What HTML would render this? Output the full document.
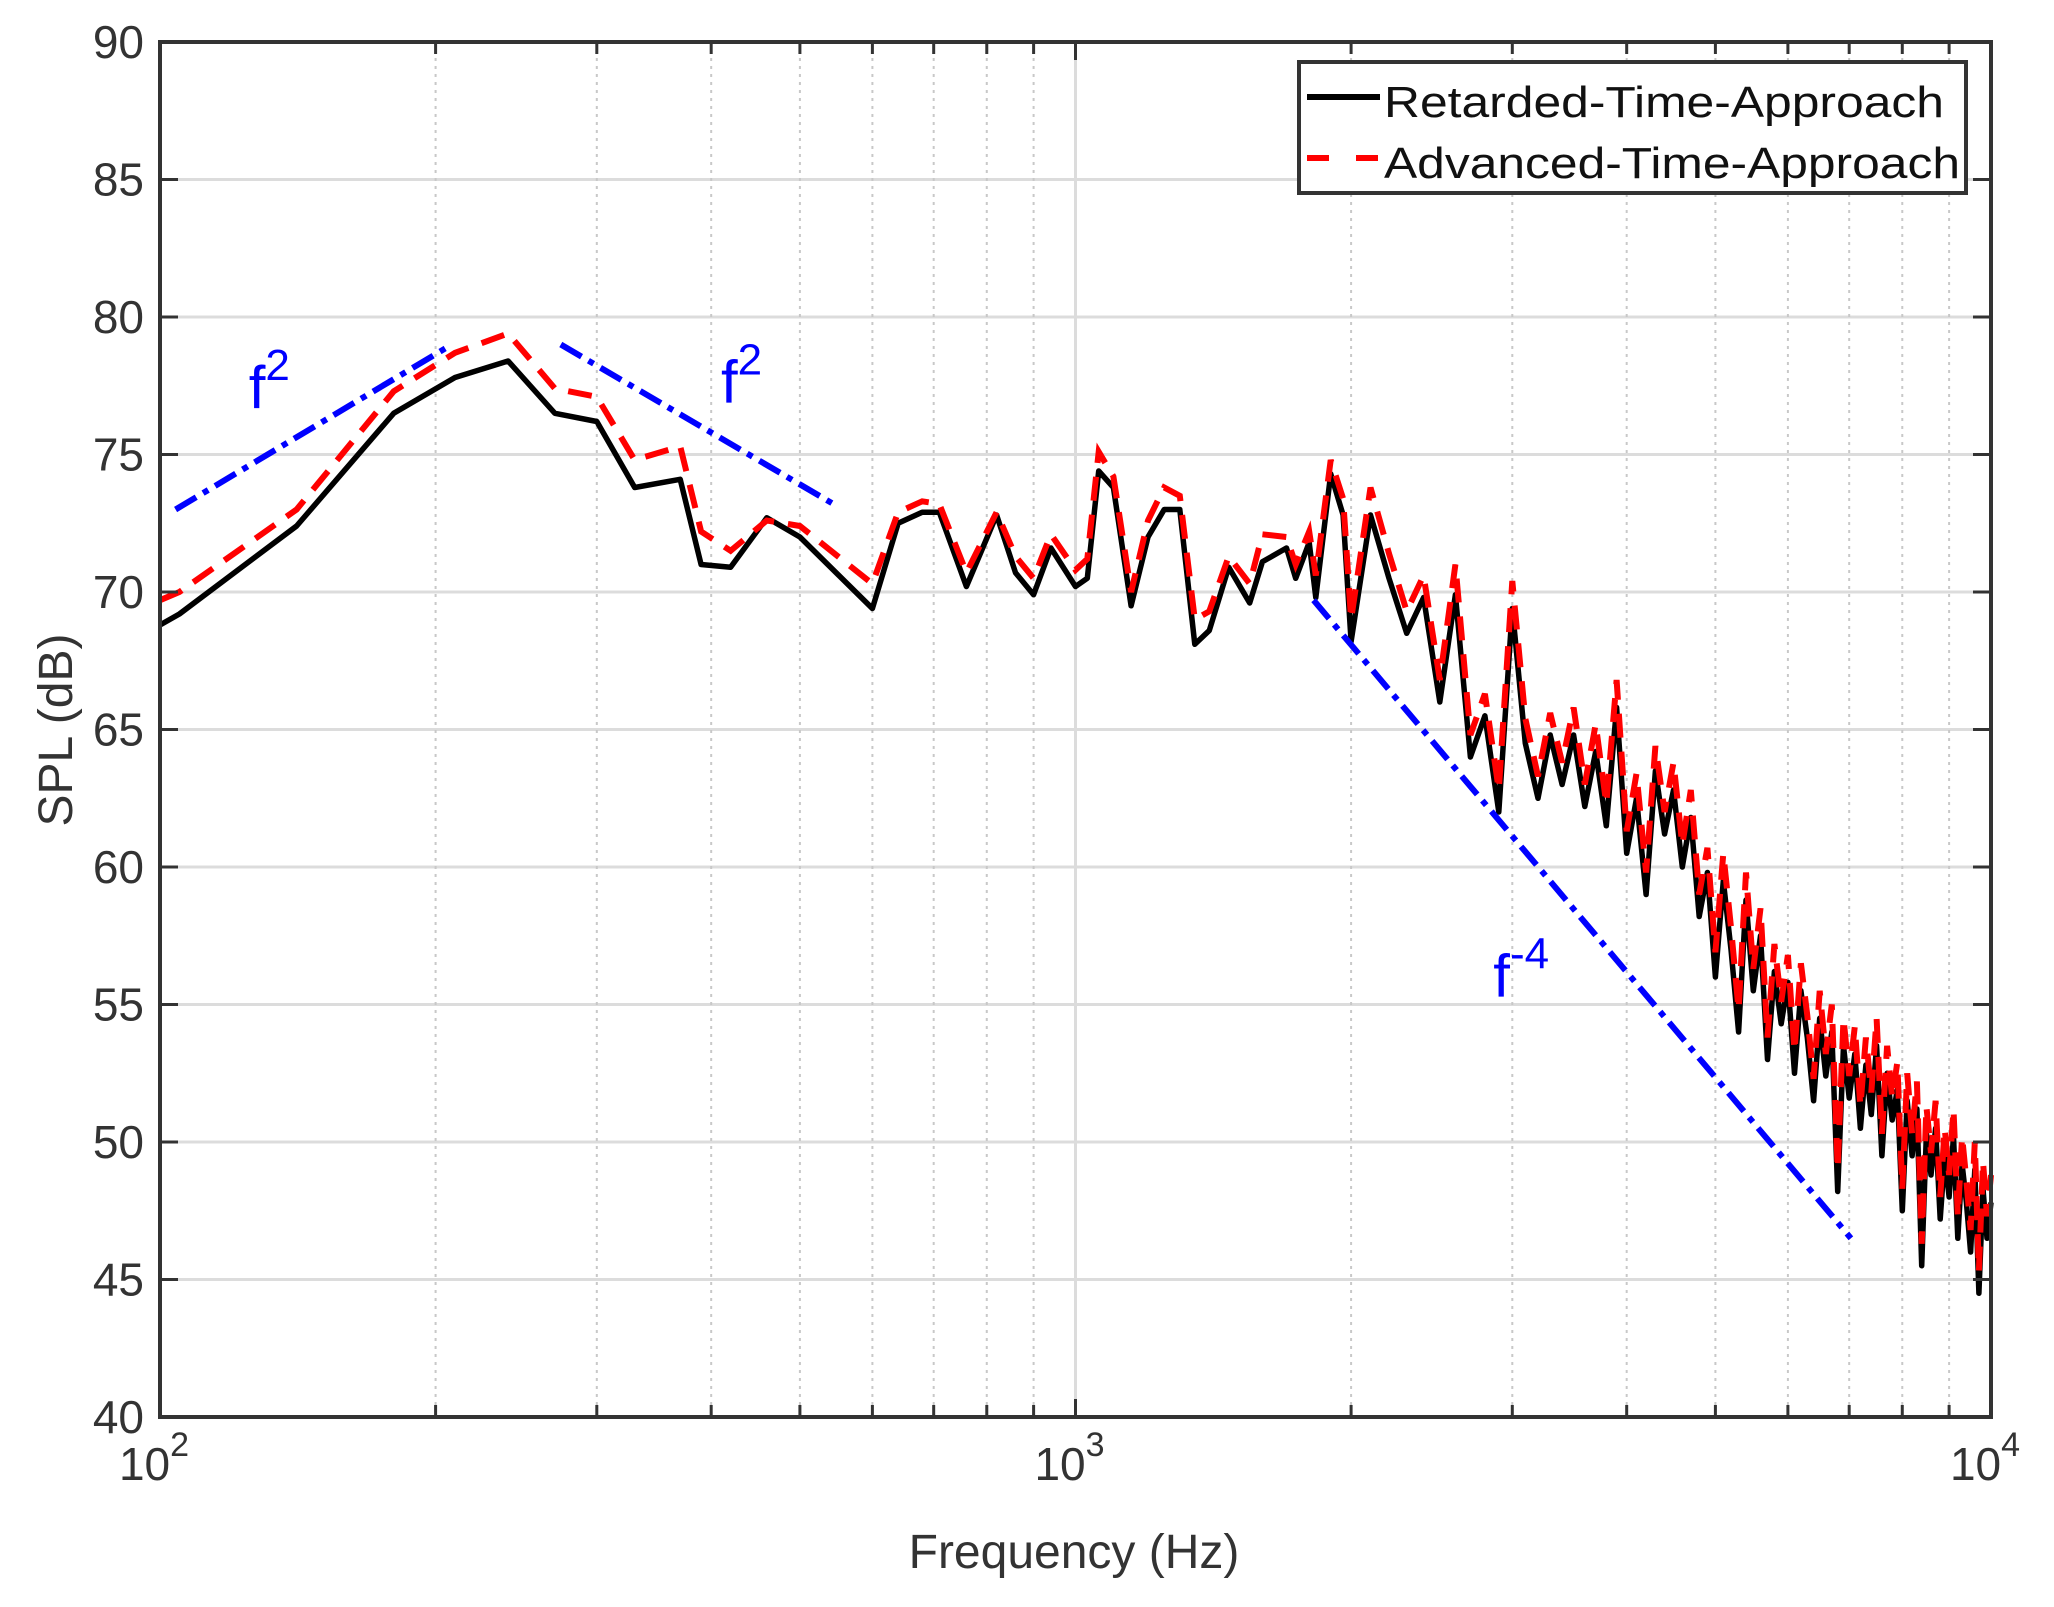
<!DOCTYPE html>
<html><head><meta charset="utf-8"><style>
html,body{margin:0;padding:0;background:#fff;}
svg{display:block;font-family:"Liberation Sans",Arial,sans-serif;}
</style></head><body>
<svg id="chart" width="2054" height="1607" viewBox="0 0 2054 1607" xmlns="http://www.w3.org/2000/svg">
<rect width="2054" height="1607" fill="#fff"/>
<g id="grid"></g>
<g id="series"></g>
<g id="axes"></g>
</svg>
<script>
const yTicks=[40,45,50,55,60,65,70,75,80,85,90];
const xDecades=[100,1000,10000];
const xDecadeExp=['2','3','4'];
const freqLo=[100,105,141,180,210,240,270,300,330,370,390,420,460,500,600,640,680,710,760,820,860,900,940,1000,1030,1060,1100,1150,1200,1250,1300,1350,1400,1470,1550,1600,1700,1740,1800,1830,1900,1960];
const blackLo=[68.8,69.2,72.4,76.5,77.8,78.4,76.5,76.2,73.8,74.1,71,70.9,72.7,72,69.4,72.5,72.9,72.9,70.2,72.8,70.7,69.9,71.6,70.2,70.5,74.4,73.8,69.5,72,73,73,68.1,68.6,70.9,69.6,71.1,71.6,70.5,71.8,69.8,74.3,72.8];
const redLo=[69.7,70,73,77.3,78.7,79.4,77.4,77.1,74.8,75.3,72.2,71.5,72.6,72.4,70.3,72.9,73.3,73.2,70.7,72.9,71.3,70.5,72.1,70.8,71.2,75.1,74.2,70,72.6,73.8,73.5,69,69.3,71.3,70.3,72.1,72,71,72.2,70.6,74.8,73.4];
const freqHi=[2000,2100,2200,2300,2400,2500,2600,2700,2800,2900,3000,3100,3200,3300,3400,3500,3600,3700,3800,3900,4000,4100,4200,4300,4400,4500,4600,4700,4800,4900,5000,5100,5200,5300,5400,5500,5600,5700,5800,5900,6000,6100,6200,6300,6400,6500,6600,6700,6800,6900,7000,7100,7200,7300,7400,7500,7600,7700,7800,7900,8000,8100,8200,8300,8400,8500,8600,8700,8800,8900,9000,9100,9200,9300,9400,9500,9600,9700,9800,9900,10000];
const blackHi=[68.2,72.8,70.5,68.5,69.8,66,69.9,64,65.5,62,69.4,64.5,62.5,64.8,63,64.8,62.2,64.2,61.5,65.8,60.5,62.5,59,63.5,61.2,62.8,60,61.8,58.2,59.8,56,59.5,57,54,58.8,55.5,57.5,53,56.2,54.3,55.8,52.5,55.5,53.8,51.5,54.5,52.4,54,48.2,53.5,51.6,53.2,50.5,52.8,51,53.5,49.5,52.5,50.8,51.9,47.5,51.5,49.5,51.2,45.5,50.3,48.8,50.5,47.2,49.5,48,50.2,46.5,49.2,47.8,46,49,44.5,48.3,46.5,47.8];
const redHi=[69,73.8,71.4,69.3,70.6,66.8,71,64.8,66.3,62.8,70.4,65.4,63.3,65.6,63.8,65.8,63,65.2,62.3,66.8,61.3,63.4,59.8,64.4,62,63.8,60.8,62.8,59,60.7,56.9,60.5,57.8,54.8,59.8,56.3,58.5,53.8,57.2,55.1,56.8,53.3,56.5,54.6,52.3,55.5,53.2,55,49,54.5,52.4,54.2,51.3,53.8,51.8,54.5,50.3,53.5,51.6,52.9,48.3,52.5,50.3,52.2,46.3,51.3,49.6,51.5,48,50.5,48.8,51.2,47.3,50.2,48.6,46.8,50,45.3,49.3,47.3,48.8];
const slopeF=[[104,206],[274,544],[1820,7030]];
const slopeDb=[[73.0,78.9],[79.0,73.2],[69.7,46.5]];
const slopeLabels=[['f','2',125,76.7],['f','2',410,76.9],['f','4',2860,55.3]];

const L=160,R=1991,T=42,B=1417;
const xs=f=>L+(Math.log10(f)-2)/2*(R-L);
const ys=v=>B-(v-40)/50*(B-T);
const NS='http://www.w3.org/2000/svg';
function mk(tag,attrs,parent){const e=document.createElementNS(NS,tag);for(const k in attrs)e.setAttribute(k,attrs[k]);parent.appendChild(e);return e;}
const grid=document.getElementById('grid'),series=document.getElementById('series'),axes=document.getElementById('axes');

yTicks.forEach(v=>{if(v===40||v===90)return;
 const l=mk('line',{x1:L,x2:R,y1:ys(v),y2:ys(v),stroke:'#dcdcdc','stroke-width':3},grid);
 
 });
for(let d=0;d<2;d++){for(let m=1;m<10;m++){const f=xDecades[d]*m;const x=xs(f);
 if(m===1){if(d===0)continue;
  const l=mk('line',{x1:x,x2:x,y1:T,y2:B,stroke:'#dcdcdc','stroke-width':3},grid);
  
  }
 else{const l=mk('line',{x1:x,x2:x,y1:T,y2:B,stroke:'#c8c8c8','stroke-width':2,'stroke-dasharray':'3 5'},grid);
  
  }
 const t1=mk('line',{x1:x,x2:x,y1:B,y2:B-(m===1?18:12),stroke:'#333','stroke-width':3},axes);
 
 
 const t2=mk('line',{x1:x,x2:x,y1:T,y2:T+(m===1?18:12),stroke:'#333','stroke-width':3},axes);
 
 }}

function path(fs,vs,attrs,name){const d=fs.map((f,i)=>(i?'L':'M')+xs(f).toFixed(1)+','+ys(vs[i]).toFixed(1)).join('');
 const p=mk('path',Object.assign({d:d,fill:'none'},attrs),series);
 
 }
const fAll=freqLo.concat(freqHi),bAll=blackLo.concat(blackHi),rAll=redLo.concat(redHi);
path(fAll,bAll,{stroke:'#000','stroke-width':5.5,'stroke-linejoin':'round'},'retarded-time-line');
path(fAll,rAll,{stroke:'#ff0000','stroke-width':6,'stroke-dasharray':'24 14'},'advanced-time-line');
slopeF.forEach((fs,i)=>{path(fs,slopeDb[i],{stroke:'#0000ff','stroke-width':6,'stroke-dasharray':'24 8 6 8'},'slope-line-'+(i+1));});
slopeLabels.forEach(s=>{const t=mk('text',{x:xs(s[2]),y:ys(s[3]),fill:'#0000ff','font-size':60},series);
 
 
 t.textContent=s[0];const sp=mk('tspan',{dy:-28,'font-size':44},t);sp.textContent=(s[1]==='4'?'-':'')+s[1];});

const box=mk('rect',{x:L,y:T,width:R-L,height:B-T,fill:'none',stroke:'#333','stroke-width':4},axes);


yTicks.forEach(v=>{const y=ys(v);
 const a=mk('line',{x1:L,x2:L+18,y1:y,y2:y,stroke:'#333','stroke-width':3},axes);
 
 
 const b=mk('line',{x1:R,x2:R-18,y1:y,y2:y,stroke:'#333','stroke-width':3},axes);
 
 
 const t=mk('text',{x:L-16,y:y+16,'text-anchor':'end','font-size':46,fill:'#333'},axes);
 
 
 t.textContent=v;});
xDecades.forEach((f,i)=>{const t=mk('text',{x:xs(f)-6,y:1480,'text-anchor':'middle','font-size':46,fill:'#333'},axes);
 
 
 t.textContent='10';const sp=mk('tspan',{dy:-24,'font-size':34},t);sp.textContent=xDecadeExp[i];});
const xt=mk('text',{x:1074,y:1568,'text-anchor':'middle','font-size':48,fill:'#333'},axes);


xt.textContent='Frequency (Hz)';
const yt=mk('text',{x:0,y:0,'text-anchor':'middle','font-size':48,fill:'#333',transform:'translate(72,730) rotate(-90)'},axes);


yt.textContent='SPL (dB)';

const lg=mk('g',{},axes);


mk('rect',{x:1299,y:62,width:667,height:131,fill:'#fff',stroke:'#333','stroke-width':4},lg);
const e1=mk('g',{},lg);


mk('line',{x1:1307,x2:1380,y1:97,y2:97,stroke:'#000','stroke-width':6},e1);
const t1=mk('text',{x:1384,y:117,'font-size':44,fill:'#111',textLength:560,lengthAdjust:'spacingAndGlyphs'},e1);t1.textContent='Retarded-Time-Approach';
const e2=mk('g',{},lg);


mk('line',{x1:1307,x2:1380,y1:158,y2:158,stroke:'#ff0000','stroke-width':6,'stroke-dasharray':'22 27'},e2);
const t2=mk('text',{x:1384,y:178,'font-size':44,fill:'#111',textLength:576,lengthAdjust:'spacingAndGlyphs'},e2);t2.textContent='Advanced-Time-Approach';
</script>
</body></html>
